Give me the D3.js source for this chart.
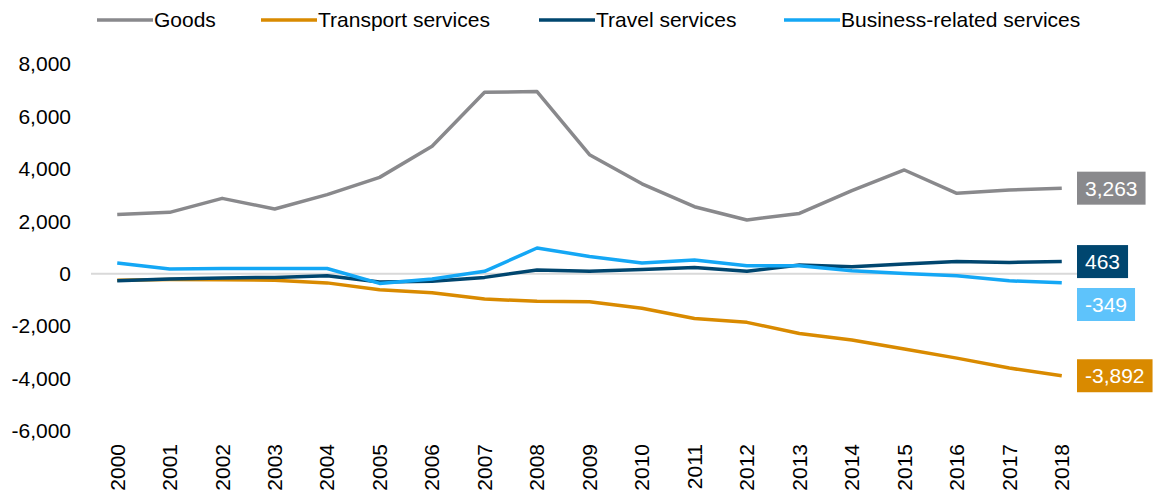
<!DOCTYPE html>
<html>
<head>
<meta charset="utf-8">
<script src="https://cdn.jsdelivr.net/npm/d3@7"></script>
<style>
  body { margin: 0; background: #fff; }
  svg { display: block; font-family: Arial, "Liberation Sans", sans-serif; }
</style>
</head>
<body>
<svg id="chart" width="1157" height="490"></svg>
<script>
const years = d3.range(2000, 2019).map(String);

const goods = [2260, 2340, 2875, 2470, 3015, 3675, 4860, 6920, 6950, 4540,
  3430, 2557, 2050, 2300, 3170, 3957, 3065, 3195, 3263];
const transport = [-250, -220, -230, -250, -350, -610, -725, -965, -1055, -1070,
  -1320, -1705, -1855, -2280, -2530, -2875, -3220, -3600, -3892];
const travel = [-270, -200, -160, -140, -75, -320, -290, -140, 140, 90,
  165, 240, 90, 330, 267, 370, 470, 430, 463];
const business = [410, 180, 200, 200, 200, -370, -200, 90, 980, 660,
  410, 520, 305, 305, 115, 10, -75, -270, -349];

const yTicks = [-6000, -4000, -2000, 0, 2000, 4000, 6000, 8000];

const series = [
  { name: "Goods", values: goods, colour: "#89898c", box: "#89898c", labelY: null },
  { name: "Transport services", values: transport, colour: "#d98a00", box: "#d98a00", labelY: null },
  { name: "Travel services", values: travel, colour: "#00466f", box: "#00466f", labelY: null },
  { name: "Business-related services", values: business, colour: "#14a7f5", box: "#5ec3fb", labelY: 304.5 }
];

const svg = d3.select("#chart");
const margin = { top: 64, left: 91, right: 1088, bottom: 431 };

const x = d3.scaleBand().domain(years).range([margin.left, margin.right]);
const y = d3.scaleLinear().domain([-6000, 8000]).range([margin.bottom, margin.top]);

// plain hyphen for negatives, like the original
const locale = d3.formatLocale({ decimal: ".", thousands: ",", grouping: [3], currency: ["", ""], minus: "-" });
const fmt = locale.format(",");

// y axis labels
const yAxis = svg.append("g")
  .attr("transform", "translate(71,0)")
  .call(d3.axisLeft(y).tickValues(yTicks).tickSize(0).tickPadding(0).tickFormat(fmt));
yAxis.select(".domain").remove();
yAxis.selectAll("text")
  .attr("font-size", "21px")
  .attr("font-family", "Arial, 'Liberation Sans', sans-serif")
  .attr("fill", "#000");

// zero line
svg.append("line")
  .attr("x1", margin.left).attr("x2", margin.right)
  .attr("y1", y(0)).attr("y2", y(0))
  .attr("stroke", "#d9d9d9").attr("stroke-width", 2);

// x axis labels (rotated)
const xAxis = svg.append("g")
  .attr("transform", `translate(0,${margin.bottom + 13})`)
  .call(d3.axisBottom(x).tickSize(0).tickPadding(0));
xAxis.select(".domain").remove();
xAxis.selectAll("text")
  .attr("font-size", "21px")
  .attr("font-family", "Arial, 'Liberation Sans', sans-serif")
  .attr("fill", "#000")
  .attr("text-anchor", "end")
  .attr("transform", "rotate(-90)")
  .attr("x", 0)
  .attr("y", 0)
  .attr("dy", "0.35em");

const line = d3.line()
  .x((d, i) => x(years[i]) + x.bandwidth() / 2)
  .y(d => y(d));

svg.append("g").selectAll("path")
  .data(series)
  .enter()
  .append("path")
  .attr("d", d => line(d.values))
  .attr("fill", "none")
  .attr("stroke", d => d.colour)
  .attr("stroke-width", 3.5)
  .attr("stroke-linejoin", "round");

// end labels
const boxX = 1077;
const labels = svg.append("g").selectAll("g")
  .data(series)
  .enter()
  .append("g");

labels.each(function (d) {
  const g = d3.select(this);
  const last = d.values[d.values.length - 1];
  const cy = d.labelY !== null ? d.labelY : y(last);
  const text = g.append("text")
    .attr("x", boxX + 8)
    .attr("y", cy)
    .attr("dy", "0.36em")
    .attr("font-size", "21px")
    .attr("fill", "#fff")
    .text(fmt(last));
  const w = text.node().getComputedTextLength();
  g.insert("rect", "text")
    .attr("x", boxX)
    .attr("y", cy - 16.5)
    .attr("width", w + 16)
    .attr("height", 33)
    .attr("fill", d.box);
});

// legend
const legendItems = [
  { s: series[0], x: 97 },
  { s: series[1], x: 261 },
  { s: series[2], x: 539 },
  { s: series[3], x: 784 }
];
const legend = svg.append("g").selectAll("g")
  .data(legendItems)
  .enter()
  .append("g")
  .attr("transform", d => `translate(${d.x},20)`);

legend.append("line")
  .attr("x1", 0).attr("x2", 56)
  .attr("stroke", d => d.s.colour)
  .attr("stroke-width", 3.5);

legend.append("text")
  .attr("x", 57)
  .attr("dy", "0.35em")
  .attr("font-size", "21px")
  .attr("fill", "#000")
  .text(d => d.s.name);
</script>
</body>
</html>
